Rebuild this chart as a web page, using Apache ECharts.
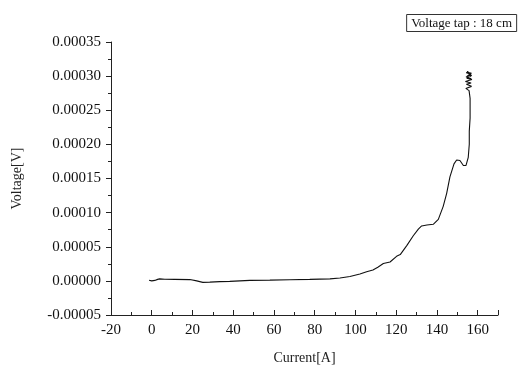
<!DOCTYPE html>
<html>
<head>
<meta charset="utf-8">
<script src="https://cdn.jsdelivr.net/npm/echarts@6/dist/echarts.min.js"></script>
<style>
  html, body { margin: 0; padding: 0; background: #fff; }
  #chart { width: 521px; height: 370px; }
</style>
</head>
<body>
<div id="chart"></div>
<script>
// current [A]
const currentA = [
  -1.3, 0, 1.5, 2.9, 3.9, 6.4, 11.3, 18.7, 22.1, 25.1, 28.5, 33.4, 38.3, 48.2, 58.0,
  67.8, 77.6, 87.5, 92.4, 97.3, 102.2, 105.5, 108.6, 111.0, 113.7, 117.0, 120.2, 122.0,
  125.2, 128.4, 130.9, 132.5, 135.1, 138.2, 140.7, 143.1, 144.8, 146.4, 148.4, 149.7,
  151.3, 153.0, 154.3, 155.4, 155.9, 155.9, 156.3, 156.3, 155.8,
  // noisy top
  154.2, 157.0, 154.5, 156.8, 154.0, 157.2, 154.6, 156.9, 154.3, 157.1, 154.8, 156.5,
  154.4, 157.0, 154.7, 156.8, 155.0, 156.7
];
// voltage [uV]
const voltageUV = [
  1.0, 0, 0.7, 2.2, 2.9, 2.4, 2.2, 1.9, 0, -2.2, -1.9, -1.1, -0.7, 0.7, 1.1,
  1.7, 2.2, 2.9, 4.3, 6.5, 10.1, 13.4, 15.8, 20.0, 25.4, 27.7, 36.0, 38.5,
  51.7, 66.1, 75.7, 80.5, 81.9, 82.9, 90.1, 109.2, 128.3, 152.3, 171.4, 177.2,
  176.3, 169.1, 169.1, 181.1, 200.2, 219.4, 238.5, 267.3, 278.8,
  282, 285, 288, 290, 292, 295, 297, 296, 299, 301, 300, 303,
  305, 304, 306, 302, 307, 299
];

const yTicks = { min: -0.00005, max: 0.00035, step: 0.00005 };
const xTicks = { min: -20, max: 170, step: 20 };

const points = currentA.map((c, i) => [c, voltageUV[i] * 1e-6]);

const FONT = 'Liberation Serif';
const chart = echarts.init(document.getElementById('chart'));

chart.setOption({
  backgroundColor: '#fff',
  animation: false,
  title: {
    text: 'Voltage tap : 18 cm',
    right: 4,
    top: 14,
    padding: [3, 5, 2, 5],
    borderColor: '#333',
    borderWidth: 1,
    textStyle: { fontFamily: FONT, fontSize: 13, fontWeight: 'normal', color: '#111' }
  },
  grid: { left: 111, right: 23, top: 42, bottom: 49 },
  xAxis: {
    type: 'value',
    min: xTicks.min,
    max: xTicks.max,
    interval: xTicks.step,
    name: 'Current[A]',
    nameLocation: 'middle',
    nameGap: 36,
    nameTextStyle: { fontFamily: FONT, fontSize: 14, color: '#222' },
    splitLine: { show: false },
    axisLine: { onZero: false, lineStyle: { color: '#222', width: 1 } },
    axisTick: { inside: true, length: 5, lineStyle: { color: '#222' } },
    minorTick: { show: true, splitNumber: 2, length: 3, lineStyle: { color: '#222' } },
    axisLabel: {
      margin: 8,
      fontFamily: FONT,
      fontSize: 15,
      color: '#111',
      formatter: v => (v % 20 === 0 && v <= 160) ? String(v) : ''
    }
  },
  yAxis: {
    type: 'value',
    min: yTicks.min,
    max: yTicks.max,
    interval: yTicks.step,
    name: 'Voltage[V]',
    nameLocation: 'middle',
    nameRotate: 90,
    nameGap: 87,
    nameTextStyle: { fontFamily: FONT, fontSize: 14, color: '#222' },
    splitLine: { show: false },
    axisLine: { show: true, onZero: false, lineStyle: { color: '#222', width: 1 } },
    axisTick: { show: true, length: 5, lineStyle: { color: '#222' } },
    minorTick: { show: true, splitNumber: 2, length: 3, lineStyle: { color: '#222' } },
    axisLabel: {
      margin: 10,
      fontFamily: FONT,
      fontSize: 15,
      color: '#111',
      formatter: v => v.toFixed(5)
    }
  },
  series: [{
    name: 'Voltage tap : 18 cm',
    type: 'line',
    data: points,
    showSymbol: false,
    smooth: false,
    lineStyle: { color: '#111', width: 1.1 }
  }]
});
</script>
</body>
</html>
